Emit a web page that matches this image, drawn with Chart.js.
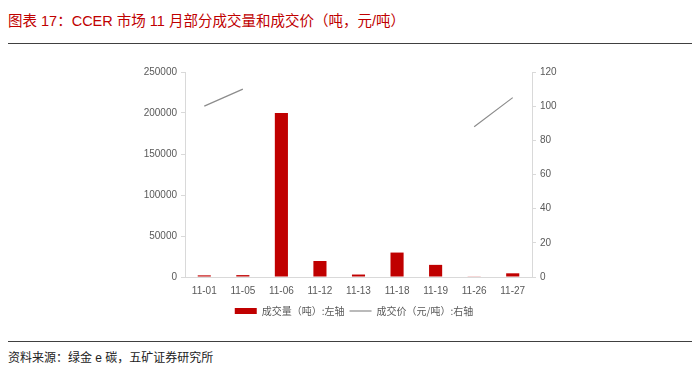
<!DOCTYPE html>
<html>
<head>
<meta charset="utf-8">
<script src="https://cdn.jsdelivr.net/npm/chart.js@4"></script>
<style>
  html, body { margin: 0; padding: 0; background: #fff; }
  body { width: 700px; height: 376px; position: relative; overflow: hidden;
         font-family: "Liberation Sans", Arial, "Noto Sans CJK SC", sans-serif; }
  #title { position: absolute; left: 8px; top: 9px; font-size: 14.5px; color: #C00000; white-space: nowrap; }
  #topline { position: absolute; left: 8px; top: 43px; width: 684px; height: 0; border-top: 1.5px solid #404040; }
  #botline { position: absolute; left: 8px; top: 341px; width: 684px; height: 0; border-top: 1.5px solid #404040; }
  #source { position: absolute; left: 8px; top: 348px; font-size: 12px; color: #222; white-space: nowrap; }
  #wrap { position: absolute; left: 0; top: 50px; width: 700px; height: 280px; }
</style>
</head>
<body>
<div id="title">图表 17：CCER 市场 11 月部分成交量和成交价（吨，元/吨）</div>
<div id="topline"></div>
<div id="wrap"><canvas id="c"></canvas></div>
<div id="botline"></div>
<div id="source">资料来源：绿金 e 碳，五矿证券研究所</div>
<script>
const categories = ["11-01","11-05","11-06","11-12","11-13","11-18","11-19","11-26","11-27"];
const volume = [2000, 2300, 200000, 19500, 3000, 29800, 14800, 800, 4500];
const price = [100, 110, null, null, null, null, null, 88, 105];
const leftTicks = [0, 50000, 100000, 150000, 200000, 250000];
const rightTicks = [0, 20, 40, 60, 80, 100, 120];

const tickFont = { family: '"Liberation Sans", Arial, sans-serif', size: 10 };
const tickColor = '#595959';
const axisColor = '#D9D9D9';

new Chart(document.getElementById('c'), {
  data: {
    labels: categories,
    datasets: [
      { type: 'bar', label: '成交量（吨）:左轴', data: volume, yAxisID: 'y',
        backgroundColor: '#C00000', borderWidth: 0,
        barPercentage: 0.34, categoryPercentage: 1, order: 2, pointStyle: 'rect' },
      { type: 'line', label: '成交价（元/吨）:右轴', data: price, yAxisID: 'y1',
        borderColor: '#8C8C8C', backgroundColor: '#8C8C8C', borderWidth: 1.2,
        pointRadius: 0, spanGaps: false, order: 1, pointStyle: 'line', tension: 0 }
    ]
  },
  options: {
    responsive: true, maintainAspectRatio: false, animation: false,
    layout: { padding: { left: 128, right: 120, top: 22, bottom: 4 } },
    plugins: {
      tooltip: { enabled: false },
      legend: {
        position: 'bottom',
        labels: {
          usePointStyle: true, pointStyleWidth: 22, boxHeight: 6,
          font: { family: '"Noto Sans CJK SC", sans-serif', size: 10 },
          color: '#595959', padding: 5,
          sort: (a, b) => a.datasetIndex - b.datasetIndex
        }
      }
    },
    scales: {
      x: {
        afterFit: s => { s.height -= 4; },
        grid: { display: true, drawOnChartArea: false, drawTicks: false, color: axisColor },
        border: { color: axisColor },
        ticks: { font: tickFont, color: tickColor, padding: 8, maxRotation: 0 }
      },
      y: {
        position: 'left', min: 0, max: 250000,
        afterFit: s => { s.width = 57; },
        afterBuildTicks: s => { s.ticks = leftTicks.map(v => ({ value: v })); },
        grid: { drawOnChartArea: false, color: axisColor, tickLength: 4 },
        border: { color: axisColor },
        ticks: { font: tickFont, color: tickColor, padding: 4, callback: v => String(v) }
      },
      y1: {
        position: 'right', min: 0, max: 120,
        afterFit: s => { s.width = 48; },
        afterBuildTicks: s => { s.ticks = rightTicks.map(v => ({ value: v })); },
        grid: { drawOnChartArea: false, color: axisColor, tickLength: 4 },
        border: { color: axisColor },
        ticks: { font: tickFont, color: tickColor, padding: 4, callback: v => String(v) }
      }
    }
  }
});
</script>
</body>
</html>
